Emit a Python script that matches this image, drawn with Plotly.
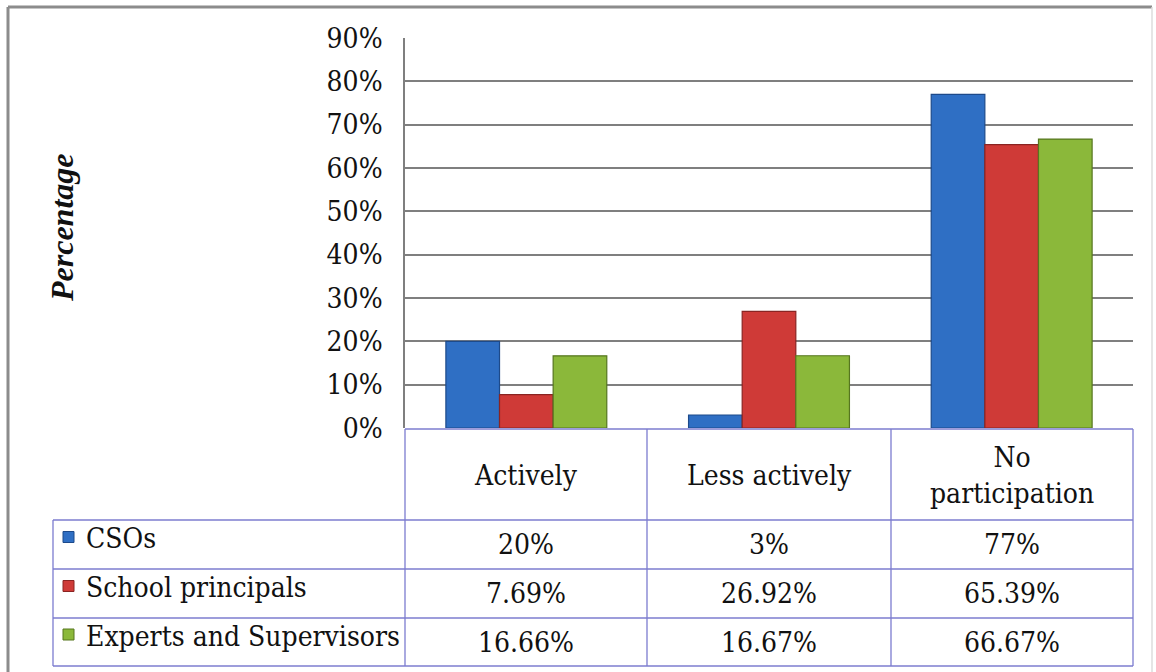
import plotly.graph_objects as go

# Participation categories and the three respondent groups (percent)
categories = ["Actively", "Less actively", "No participation"]
category_labels = ["Actively", "Less actively", "No<br>participation"]
series_names = ["CSOs", "School principals", "Experts and Supervisors"]
cso_values = [20, 3, 77]
principal_values = [7.69, 26.92, 65.39]
expert_values = [16.66, 16.67, 66.67]
tick_values = [0, 10, 20, 30, 40, 50, 60, 70, 80, 90]

W, H = 1156, 672
FONT = "DejaVu Serif Condensed, DejaVu Serif"
FS = 28
GRID = "#7f7f7f"
TABLE = "#7c7ccf"

fill_colors = ["#2f6fc4", "#cf3a37", "#8bb83a"]
edge_colors = ["#1d4a8a", "#8a2422", "#56761f"]


def px(x):
    return x / W


def py(y):
    return 1 - y / H


def fmt(v):
    return f"{v:g}%"


fig = go.Figure()
all_values = [cso_values, principal_values, expert_values]
for name, vals, fc, ec in zip(series_names, all_values, fill_colors, edge_colors):
    fig.add_trace(go.Bar(
        x=categories, y=vals, name=name,
        marker=dict(color=fc, line=dict(color=ec, width=1.2)),
        showlegend=False,
    ))

shapes = []
annotations = []

# outer chart frame
shapes.append(dict(type="line", xref="paper", yref="paper",
                   x0=px(8), x1=px(1152), y0=py(7), y1=py(7),
                   line=dict(color="#8c8c8c", width=3)))
shapes.append(dict(type="line", xref="paper", yref="paper",
                   x0=px(8), x1=px(8), y0=py(7), y1=py(672),
                   line=dict(color="#8c8c8c", width=3)))
shapes.append(dict(type="line", xref="paper", yref="paper",
                   x0=px(1152), x1=px(1152), y0=py(7), y1=py(672),
                   line=dict(color="#dcdcdc", width=1.5)))

# data table grid
table_top, header_bottom = 429, 520
row_edges = [520, 569, 618, 666]
col_edges = [405, 647, 891, 1133]
left_edge = 53

for x in col_edges:
    shapes.append(dict(type="line", xref="paper", yref="paper",
                       x0=px(x), x1=px(x), y0=py(table_top), y1=py(row_edges[-1]),
                       line=dict(color=TABLE, width=1.3)))
shapes.append(dict(type="line", xref="paper", yref="paper",
                   x0=px(col_edges[0]), x1=px(col_edges[-1]),
                   y0=py(table_top), y1=py(table_top),
                   line=dict(color=TABLE, width=1.3)))
for y in row_edges:
    shapes.append(dict(type="line", xref="paper", yref="paper",
                       x0=px(left_edge), x1=px(col_edges[-1]), y0=py(y), y1=py(y),
                       line=dict(color=TABLE, width=1.3)))
shapes.append(dict(type="line", xref="paper", yref="paper",
                   x0=px(left_edge), x1=px(left_edge),
                   y0=py(row_edges[0]), y1=py(row_edges[-1]),
                   line=dict(color=TABLE, width=1.3)))

# category header cells
for cat, lab in zip(categories, category_labels):
    annotations.append(dict(x=cat, xref="x", y=py((table_top + header_bottom) / 2 + 1),
                            yref="paper", text=lab, showarrow=False,
                            font=dict(family=FONT, size=FS, color="#111"),
                            xanchor="center", yanchor="middle", align="center"))

# series rows: key, name and values
for i, (name, vals, fc, ec) in enumerate(zip(series_names, all_values, fill_colors, edge_colors)):
    top, bot = row_edges[i], row_edges[i + 1]
    mid = (top + bot) / 2
    shapes.append(dict(type="rect", xref="paper", yref="paper",
                       x0=px(63), x1=px(74), y0=py(mid - 13), y1=py(mid - 2),
                       fillcolor=fc, line=dict(color=ec, width=1)))
    annotations.append(dict(x=px(84), xref="paper", y=py(mid - 6), yref="paper",
                            text=name, showarrow=False,
                            font=dict(family=FONT, size=FS, color="#111"),
                            xanchor="left", yanchor="middle"))
    for cat, v in zip(categories, vals):
        annotations.append(dict(x=cat, xref="x", y=py(mid), yref="paper",
                                text=fmt(v), showarrow=False,
                                font=dict(family=FONT, size=FS, color="#111"),
                                xanchor="center", yanchor="middle"))

# vertical axis title
annotations.append(dict(x=px(62), xref="paper", y=py(228), yref="paper",
                        text="<b><i>Percentage</i></b>", textangle=-90,
                        showarrow=False,
                        font=dict(family="Liberation Serif", size=32, color="#111"),
                        xanchor="center", yanchor="middle"))

fig.update_layout(
    template="none",
    width=W, height=H, autosize=False,
    margin=dict(l=0, r=0, t=0, b=0, pad=0, autoexpand=False),
    paper_bgcolor="white", plot_bgcolor="white",
    barmode="group", bargap=0.337, bargroupgap=0,
    shapes=shapes, annotations=annotations,
    xaxis=dict(domain=[px(405), px(1133)], showticklabels=False, ticks="",
               showgrid=False, zeroline=False, showline=False,
               automargin=False, fixedrange=True),
    yaxis=dict(domain=[py(428), py(38)], range=[0, 90],
               tickvals=tick_values, ticktext=[fmt(t) for t in tick_values],
               showgrid=True, gridcolor=GRID, gridwidth=1.6,
               zeroline=False, showline=True, linecolor=GRID, linewidth=1.6,
               ticks="", ticklabelstandoff=15, automargin=False,
               tickfont=dict(family=FONT, size=FS, color="#111"),
               fixedrange=True),
)

fig.write_html("out.html")
